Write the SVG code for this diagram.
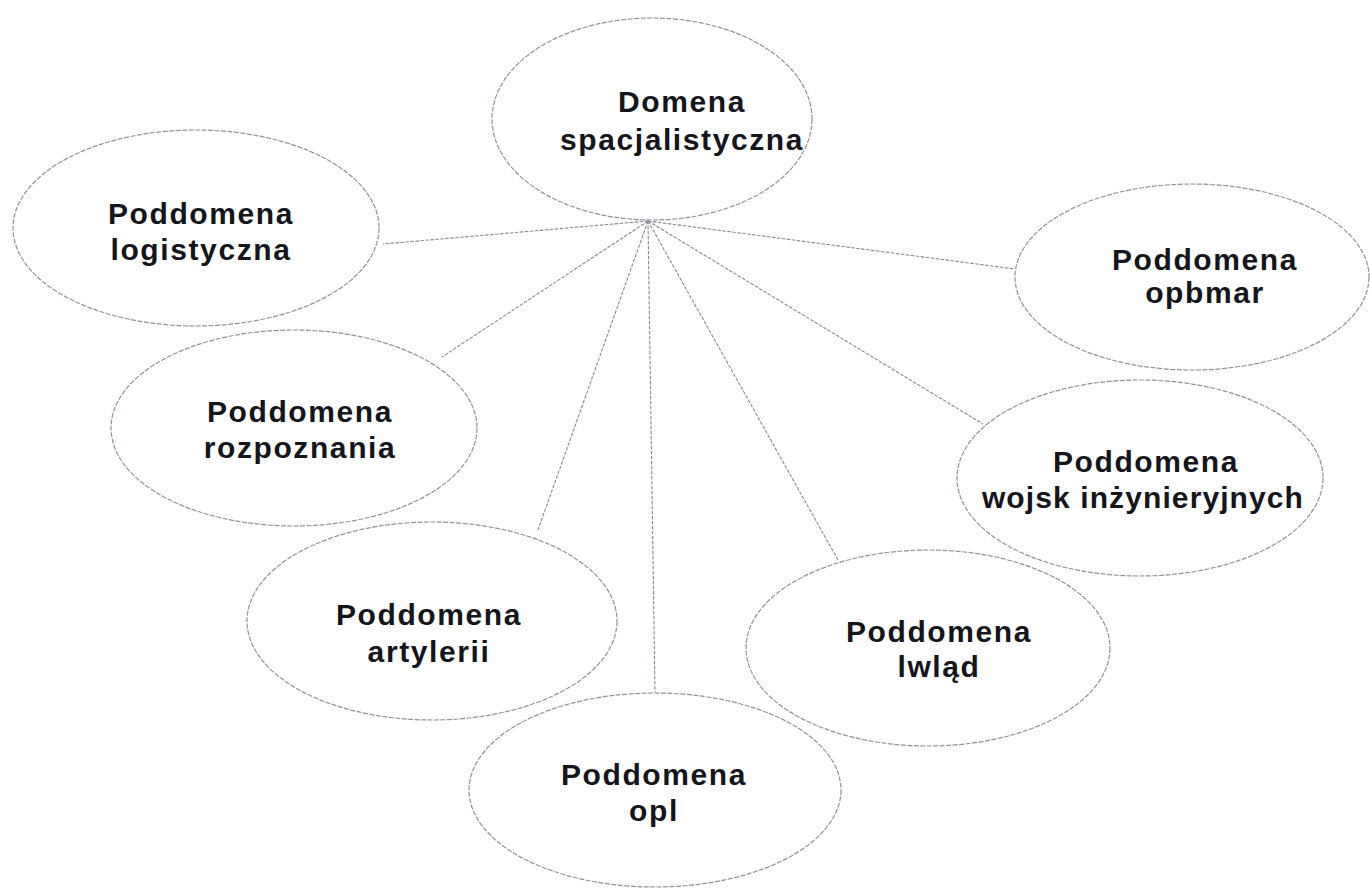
<svg xmlns="http://www.w3.org/2000/svg" width="1370" height="889" viewBox="0 0 1370 889">
<style>
.bg{fill:#ffffff}
.node ellipse{fill:none;stroke:#8f939b;stroke-width:1.2;stroke-dasharray:5 1.5}
.node text{font-family:"Liberation Sans",Arial,sans-serif;font-weight:bold;font-size:30px;letter-spacing:1.6px;fill:#15151c;text-anchor:middle}
.conn line{stroke:#858a93;stroke-width:1.1;stroke-dasharray:3.5 1.5}
</style>
<rect class="bg" x="0" y="0" width="1370" height="889"/>
<g id="connectors" class="conn">
<line x1="648" y1="221" x2="383" y2="244"/>
<line x1="648" y1="221" x2="442" y2="357"/>
<line x1="648" y1="221" x2="538" y2="530"/>
<line x1="648" y1="221" x2="655" y2="692"/>
<line x1="648" y1="221" x2="838" y2="560"/>
<line x1="648" y1="221" x2="983" y2="424"/>
<line x1="648" y1="221" x2="1015" y2="269"/>
</g>
<g id="node-domena" class="node">
<ellipse cx="652" cy="119" rx="160" ry="101"/>
<text x="682" y="112">Domena</text>
<text x="682" y="150">spacjalistyczna</text>
</g>
<g id="node-logistyczna" class="node">
<ellipse cx="196" cy="228" rx="183" ry="98"/>
<text x="201" y="224">Poddomena</text>
<text x="201" y="260">logistyczna</text>
</g>
<g id="node-rozpoznania" class="node">
<ellipse cx="294" cy="428" rx="183" ry="98"/>
<text x="300" y="422">Poddomena</text>
<text x="300" y="458">rozpoznania</text>
</g>
<g id="node-artylerii" class="node">
<ellipse cx="432" cy="621" rx="185" ry="99"/>
<text x="429" y="625">Poddomena</text>
<text x="429" y="662">artylerii</text>
</g>
<g id="node-opl" class="node">
<ellipse cx="655" cy="790" rx="186" ry="97"/>
<text x="654" y="785">Poddomena</text>
<text x="654" y="821">opl</text>
</g>
<g id="node-lwlad" class="node">
<ellipse cx="928" cy="648" rx="182" ry="98"/>
<text x="939" y="642">Poddomena</text>
<text x="939" y="677">lwląd</text>
</g>
<g id="node-wojsk" class="node">
<ellipse cx="1140" cy="478" rx="183" ry="98"/>
<text x="1146" y="472">Poddomena</text>
<text x="1143" y="508" style="letter-spacing:1.1px">wojsk inżynieryjnych</text>
</g>
<g id="node-opbmar" class="node">
<ellipse cx="1192" cy="277" rx="177" ry="93"/>
<text x="1205" y="270">Poddomena</text>
<text x="1205" y="303">opbmar</text>
</g>
</svg>
